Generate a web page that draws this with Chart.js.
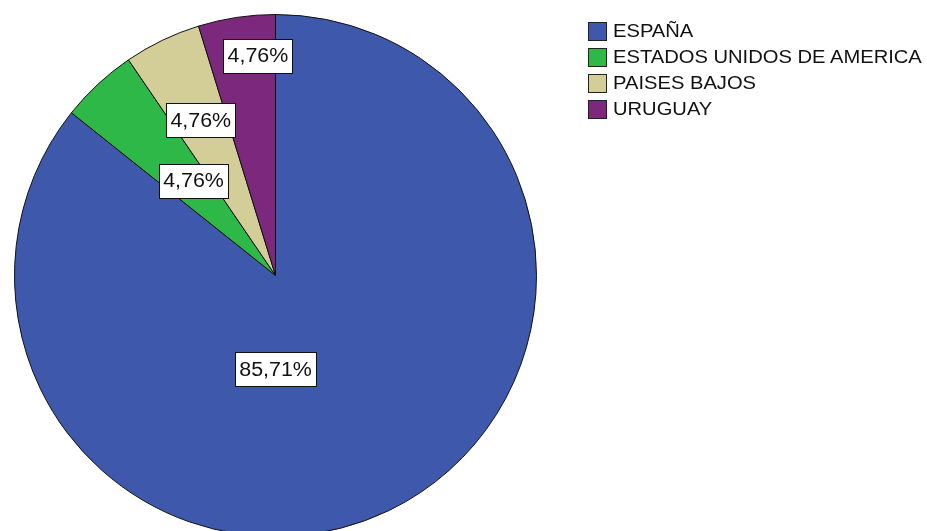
<!DOCTYPE html>
<html>
<head>
<meta charset="utf-8">
<script src="https://cdn.jsdelivr.net/npm/chart.js@4.4.1/dist/chart.umd.min.js"></script>
<style>
  html, body { margin: 0; padding: 0; background: #fff; overflow: hidden; }
  #wrap { position: relative; width: 927px; height: 560px; }
  #legend { position: absolute; left: 588px; top: 18px; font-family: "Liberation Sans", Arial, sans-serif; font-size: 18px; color: #111; }
  .item { height: 26px; display: flex; align-items: center; white-space: nowrap; }
  .box { width: 19px; height: 19px; border: 1px solid #222; box-sizing: border-box; margin-right: 6px; flex: none; }
  .txt { display: inline-block; transform: scaleX(1.12); transform-origin: left center; }
</style>
</head>
<body>
<div id="wrap">
  <canvas id="pie"></canvas>
  <div id="legend"></div>
</div>
<script>
// data
var paises = ["ESPAÑA", "ESTADOS UNIDOS DE AMERICA", "PAISES BAJOS", "URUGUAY"];
var casos = [18, 1, 1, 1];
var colores = ["#3E58AC", "#2EB848", "#D3CE97", "#7C287D"];

// where the % boxes sit: fraction of radius, shift of angle in degrees
var labelRadio = [0.36, 0.48, 0.66, 0.845];
var labelGiro = [25.7, 2, 0, 4];

var total = casos.reduce(function (a, b) { return a + b; }, 0);

// legend
var legend = document.getElementById("legend");
paises.forEach(function (p, i) {
    var d = document.createElement("div");
    d.className = "item";
    d.innerHTML = '<span class="box" style="background:' + colores[i] + '"></span><span class="txt">' + p + '</span>';
    legend.appendChild(d);
});

// percentage boxes
var etiquetas = {
    id: "etiquetas",
    afterDatasetsDraw: function (chart) {
        var ctx = chart.ctx;
        var meta = chart.getDatasetMeta(0);
        var sx = 1.07;
        ctx.save();
        ctx.font = "20px 'Liberation Sans', Arial, sans-serif";
        ctx.textAlign = "center";
        ctx.textBaseline = "middle";
        meta.data.forEach(function (arc, i) {
            var p = arc.getProps(["x", "y", "startAngle", "endAngle", "outerRadius"], true);
            var ang = (p.startAngle + p.endAngle) / 2 + labelGiro[i] * Math.PI / 180;
            var r = p.outerRadius * labelRadio[i];
            var x = p.x + Math.cos(ang) * r;
            var y = p.y + Math.sin(ang) * r;
            var txt = (casos[i] / total * 100).toFixed(2).replace(".", ",") + "%";
            var w = Math.round(ctx.measureText(txt).width * sx + 8);
            var h = 34;
            var bx = Math.round(x - w / 2) + 0.5;
            var by = Math.round(y - h / 2) + 0.5;
            ctx.fillStyle = "#fff";
            ctx.fillRect(bx, by, w, h);
            ctx.strokeStyle = "#111";
            ctx.lineWidth = 1;
            ctx.strokeRect(bx, by, w, h);
            ctx.save();
            ctx.translate(x, y + 1);
            ctx.scale(sx, 1);
            ctx.fillStyle = "#111";
            ctx.fillText(txt, 0, 0);
            ctx.restore();
        });
        ctx.restore();
    }
};

var ctx = document.getElementById("pie");

var chartData = {
    labels: paises,
    datasets: [{
        data: casos,
        backgroundColor: colores,
        borderColor: "#111",
        borderWidth: 1
    }]
};

var chartOptions = {
    responsive: false,
    animation: false,
    layout: { padding: { left: 14, top: 14, right: 390, bottom: 23 } },
    plugins: {
        legend: { display: false },
        tooltip: { enabled: false }
    }
};

ctx.width = 927;
ctx.height = 560;

var pieChart = new Chart(ctx, {
    type: "pie",
    data: chartData,
    options: chartOptions,
    plugins: [etiquetas]
});
</script>
</body>
</html>
